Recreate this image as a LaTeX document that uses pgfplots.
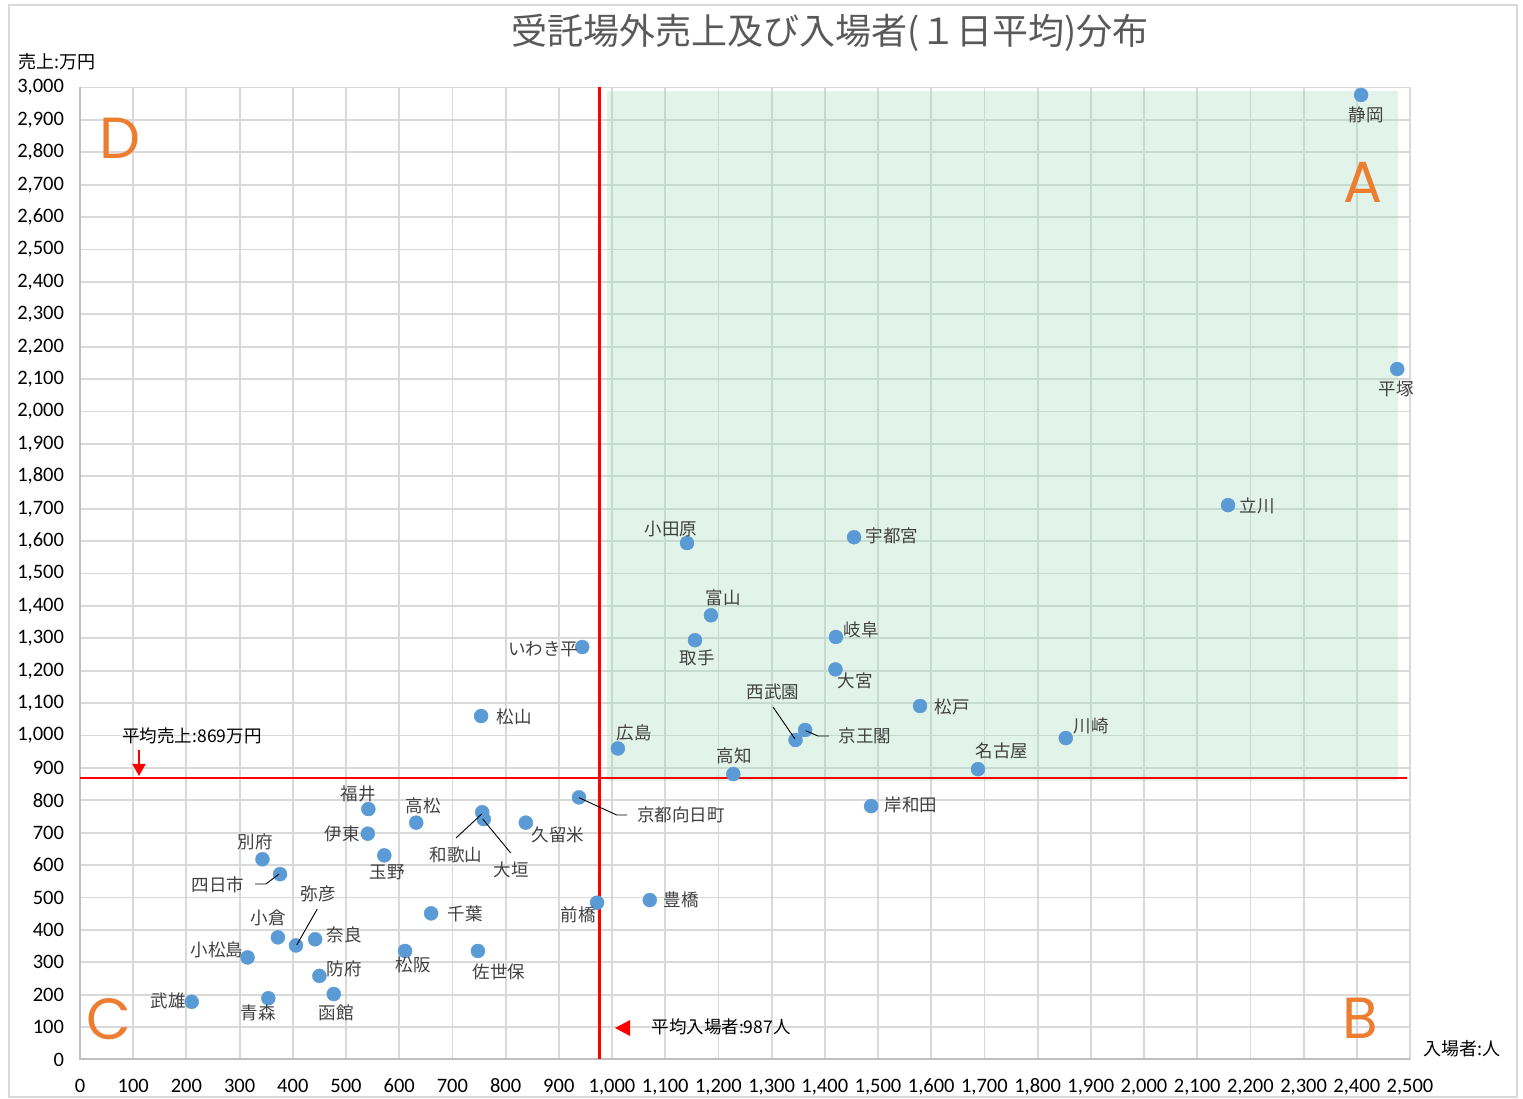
\documentclass[border=0pt]{standalone}
\usepackage{pgfplots}
\pgfplotsset{compat=1.18}
\usepackage{fontspec}
\usetikzlibrary{arrows.meta}
\setmainfont{Carlito}
\newfontfamily\jp{Noto Sans CJK JP}
\newfontfamily\carlito{Carlito}
\newfontfamily\letterfont{Poppins}
\definecolor{ptc}{HTML}{5B9BD5}
\definecolor{gridc}{HTML}{D9D9D9}
\definecolor{axc}{HTML}{BFBFBF}
\definecolor{lblc}{HTML}{404040}
\definecolor{ttlc}{HTML}{595959}
\definecolor{orng}{HTML}{ED7D31}
\definecolor{zone}{RGB}{164,222,190}
\newcommand{\lab}[3]{\node[text=lblc,font=\jp\fontsize{17.5}{20}\selectfont,inner sep=0pt] at (#1,#2) {#3};}
\begin{document}
\begin{tikzpicture}
\path (-80pt,-38.5pt) rectangle (1443pt,1059.5pt);
\draw[gridc, line width=1.5pt] (-71pt,-37.5pt) rectangle (1437pt,1054.5pt);
\begin{axis}[
  at={(0pt,0pt)}, anchor=south west,
  scale only axis, width=1330pt, height=972pt,
  xmin=0, xmax=2500, ymin=0, ymax=3000,
  xtick distance=100, ytick distance=100,
  grid=major,
  major grid style={draw=gridc, line width=1.8pt},
  axis line style={draw=gridc, line width=1.8pt},
  major tick length=0pt,
  tick style={draw=none},
  scaled ticks=false,
  /pgf/number format/1000 sep={,},
  /pgf/number format/assume math mode=true,
  xticklabel style={font=\carlito\fontsize{20.5}{24}\selectfont, yshift=-16pt, text=black, text height=13pt, text depth=3pt},
  yticklabel style={font=\carlito\fontsize{20.5}{24}\selectfont, xshift=-12.5pt, text=black},
  clip=false,
]
\fill[zone, fill opacity=0.32] (axis cs:990,860) rectangle (axis cs:2478,2988);
\draw[axc, line width=2pt] (rel axis cs:0,1) -- (rel axis cs:0,0) -- (rel axis cs:1,0);
\addplot[only marks, mark=*, mark size=7pt, color=ptc] table[row sep=\\] {
x y\\
2408 2977\\ 2476 2131\\ 2158 1711\\ 1455 1612\\ 1141 1594\\ 1186 1371\\ 1156 1294\\
1421 1304\\ 1420 1204\\ 944 1273\\ 754 1060\\ 1579 1091\\ 1345 986\\ 1363 1017\\
1853 992\\ 1011 960\\ 1228 881\\ 1688 896\\ 1487 782\\ 938 809\\ 542 773\\
632 731\\ 541 697\\ 756 763\\ 759 742\\ 838 731\\ 572 630\\ 343 618\\
376 572\\ 406 352\\ 372 377\\ 442 371\\ 660 451\\ 1071 492\\ 972 484\\
315 315\\ 611 335\\ 748 335\\ 450 258\\ 477 202\\ 354 189\\ 210 178\\
};
\draw[red, line width=2.7pt] (axis cs:976,0) -- (axis cs:976,3000);
\draw[red, line width=2.7pt] (axis cs:0,869) -- (axis cs:2494,869);
\end{axis}
\begin{scope}[x=1pt,y=-1pt,shift={(-80pt,1059.5pt)}]
% leaders
\draw[black, line width=0.9pt] (579,797.7) -- (616.7,815) -- (627,815);
\draw[black, line width=0.9pt] (805.7,730.7) -- (818,736) -- (829,736);
\draw[black, line width=0.9pt] (773,707) -- (795,739);
\draw[black, line width=0.9pt] (456,838) -- (481.7,814);
\draw[black, line width=0.9pt] (510.7,853) -- (482.7,819);
\draw[black, line width=0.9pt] (255,884) -- (266,884) -- (279,874);
\draw[black, line width=0.9pt] (317.3,909) -- (296.7,945);
% labels
\lab{1366}{115}{静岡}
\lab{1396}{389}{平塚}
\lab{1257}{506}{立川}
\lab{892}{536}{宇都宮}
\lab{671}{529}{小田原}
\lab{723}{598}{富山}
\lab{697}{658}{取手}
\lab{861}{630}{岐阜}
\lab{855}{681}{大宮}
\lab{543}{649}{いわき平}
\lab{514}{717}{松山}
\lab{952}{707}{松戸}
\lab{773}{692}{西武園}
\lab{865}{736}{京王閣}
\lab{1091}{726}{川崎}
\lab{634}{733}{広島}
\lab{734}{756}{高知}
\lab{1002}{751}{名古屋}
\lab{911}{805}{岸和田}
\lab{681}{815}{京都向日町}
\lab{358}{794}{福井}
\lab{423}{806}{高松}
\lab{342}{834}{伊東}
\lab{456}{855}{和歌山}
\lab{511}{870}{大垣}
\lab{558}{835}{久留米}
\lab{387}{872}{玉野}
\lab{255}{842}{別府}
\lab{218}{885}{四日市}
\lab{318}{894}{弥彦}
\lab{268}{918}{小倉}
\lab{344}{935}{奈良}
\lab{465}{914}{千葉}
\lab{681}{900}{豊橋}
\lab{578}{915}{前橋}
\lab{217}{950}{小松島}
\lab{413}{965}{松阪}
\lab{499}{972}{佐世保}
\lab{344}{969}{防府}
\lab{336}{1013}{函館}
\lab{258}{1013}{青森}
\lab{168}{1001}{武雄}
% title and axis labels
\node[text=ttlc, font=\jp\fontsize{36}{40}\selectfont, inner sep=0pt] at (830,33) {受託場外売上及び入場者(１日平均)分布};
\node[text=black, font=\jp\fontsize{18}{20}\selectfont, inner sep=0pt] at (57,62) {売上:万円};
\node[text=black, font=\jp\fontsize{18}{20}\selectfont, inner sep=0pt] at (1462,1049) {入場者:人};
% mean annotations
\node[text=black, font=\jp\fontsize{17.5}{20}\selectfont, inner sep=0pt] at (192,736) {平均売上:869万円};
\node[text=black, font=\jp\fontsize{17.5}{20}\selectfont, inner sep=0pt] at (721,1027) {平均入場者:987人};
\draw[red, line width=1.5pt, -{Triangle[width=13pt,length=12pt]}] (139,750) -- (139,776);
\fill[red] (615,1028) -- (630,1020) -- (630,1036) -- cycle;
% quadrant letters
\node[text=orng, font=\letterfont\fontsize{58}{60}\selectfont, inner sep=0pt] at (120,138) {D};
\node[text=orng, font=\letterfont\fontsize{58}{60}\selectfont, inner sep=0pt] at (1363,182) {A};
\node[text=orng, font=\letterfont\fontsize{58}{60}\selectfont, inner sep=0pt] at (1360,1018) {B};
\node[text=orng, font=\letterfont\fontsize{58}{60}\selectfont, inner sep=0pt] at (109,1019) {C};
\end{scope}
\end{tikzpicture}
\end{document}
